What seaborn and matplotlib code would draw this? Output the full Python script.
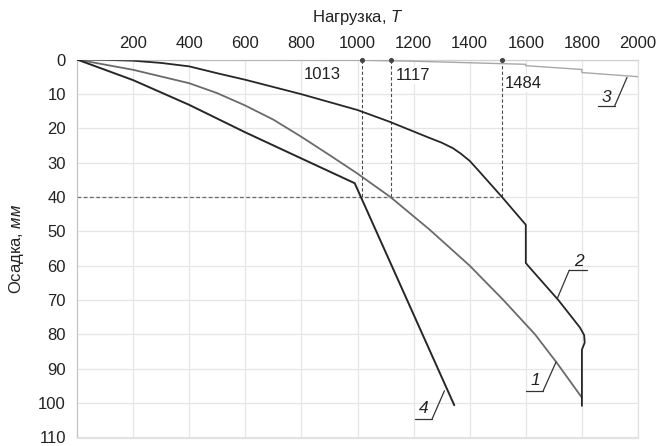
import matplotlib
matplotlib.use("Agg")
import matplotlib.pyplot as plt
from matplotlib import font_manager
import seaborn as sns
import pandas as pd

# ---------------- data ----------------
load_1 = [0, 200, 400, 500, 600, 700, 800, 900, 1000, 1117, 1257, 1400, 1520, 1633, 1710, 1800]
settle_1 = [0, 3.0, 6.9, 9.8, 13.4, 17.5, 22.5, 27.8, 33.2, 40, 49.5, 60, 70, 80, 88.2, 98.4]

load_2 = [0, 100, 200, 300, 400, 500, 600, 700, 800, 1000, 1114, 1250, 1300, 1340, 1370,
          1400, 1430, 1515, 1600, 1600, 1609, 1716, 1793, 1808, 1810, 1803, 1800, 1800]
settle_2 = [0, 0.1, 0.35, 1.0, 2.0, 4.0, 5.9, 8.0, 10.1, 14.7, 18.1, 22.6, 24.2, 25.8, 27.5,
            29.5, 32.2, 40, 48.1, 59.2, 60.1, 70, 78, 80.2, 82.4, 83.8, 84.5, 100.8]

load_3 = [0, 1000, 1200, 1600, 1600, 1800, 1800, 2000]
settle_3 = [0, 0.2, 0.5, 1.4, 1.8, 2.9, 3.8, 5.0]

load_4 = [0, 200, 400, 600, 800, 990, 1345]
settle_4 = [0, 6.0, 13.2, 21.2, 28.8, 36.0, 100.6]

crit_load_pos = [1015, 1118, 1515]
crit_load_text = ["1013", "1117", "1484"]
limit_settlement = 40

x_ticks = [200, 400, 600, 800, 1000, 1200, 1400, 1600, 1800, 2000]
y_ticks = [0, 10, 20, 30, 40, 50, 60, 70, 80, 90, 100, 110]

curve_names = ["1", "2", "3", "4"]

# ---------------- style ----------------
sns.set_style("white")
installed = {f.name for f in font_manager.fontManager.ttflist}
if "Liberation Sans Narrow" in installed:
    fam, fs = "Liberation Sans Narrow", 14
else:
    fam, fs = "Liberation Sans", 12
plt.rcParams['font.family'] = [fam, 'DejaVu Sans']
plt.rcParams['mathtext.fontset'] = 'custom'
plt.rcParams['mathtext.rm'] = fam
plt.rcParams['mathtext.it'] = fam + ':italic'

fig = plt.figure(figsize=(6.62, 4.46), dpi=100)
ax = fig.add_axes([77 / 662, 1 - 437.5 / 446, (638 - 77) / 662, (437.5 - 59.5) / 446])

frames = {
    "1": (load_1, settle_1, "#6a6a6a", 1.3),
    "2": (load_2, settle_2, "#262626", 1.3),
    "3": (load_3, settle_3, "#a8a8a8", 1.0),
    "4": (load_4, settle_4, "#262626", 1.4),
}
for name in curve_names:
    xs, ys, col, lw = frames[name]
    df = pd.DataFrame({"load": xs, "settle": ys})
    sns.lineplot(data=df, x="load", y="settle", sort=False, estimator=None,
                 color=col, lw=lw, ax=ax, zorder=3)

# critical loads: dashed guides
dash = (0, (3, 2))
for xp in crit_load_pos:
    ax.plot([xp, xp], [0, limit_settlement], ls=dash, color="#4a4a4a", lw=0.8, zorder=2)
ax.plot([0, crit_load_pos[-1]], [limit_settlement, limit_settlement], ls=dash,
        color="#6a6a6a", lw=0.9, zorder=2)
ax.scatter(crit_load_pos, [0.2] * len(crit_load_pos), s=7, color="#444444",
           zorder=5, clip_on=False)

box = dict(boxstyle="square,pad=0.05", fc="white", ec="none")
ax.text(942, 4.4, crit_load_text[0], ha="right", va="center", fontsize=fs,
        color="#222222", bbox=box, zorder=4)
ax.text(1138, 4.6, crit_load_text[1], ha="left", va="center", fontsize=fs,
        color="#222222", bbox=box, zorder=4)
ax.text(1526, 7.0, crit_load_text[2], ha="left", va="center", fontsize=fs,
        color="#222222", bbox=box, zorder=4)

# curve number callouts
callouts = {
    "3": ((1888, 11.0), (1858, 1917, 13.5), (1917, 13.5), (1961, 5.2)),
    "2": ((1790, 58.8), (1755, 1817, 61.3), (1755, 61.3), (1712, 69.6)),
    "1": ((1633, 93.3), (1601, 1662, 96.4), (1662, 96.4), (1708, 88.0)),
    "4": ((1236, 101.7), (1206, 1266, 104.6), (1266, 104.6), (1310, 96.4)),
}
for name in curve_names:
    (tx, ty), (u0, u1, uy), (l0x, l0y), (l1x, l1y) = callouts[name]
    ax.text(tx, ty, name, ha="center", va="center", fontsize=fs + 0.5,
            fontstyle="italic", color="#222222")
    ax.plot([u0, u1], [uy, uy], color="#333333", lw=0.9, zorder=4)
    ax.plot([l0x, l1x], [l0y, l1y], color="#333333", lw=0.9, zorder=4)

# axes
ax.set_xlim(0, 2000)
ax.set_ylim(110, 0)
ax.xaxis.tick_top()
ax.xaxis.set_label_position("top")
ax.set_xticks(x_ticks)
ax.set_yticks(y_ticks)
ax.tick_params(axis="both", length=0, labelsize=fs, colors="#222222")
ax.tick_params(axis="x", pad=6)
ax.tick_params(axis="y", pad=8)
ax.set_xlabel(r"Нагрузка, $\mathit{T}$", fontsize=fs, labelpad=10, color="#222222")
ax.set_ylabel(r"Осадка, $\mathit{мм}$", fontsize=fs, labelpad=9, color="#222222")

ax.grid(True, color="#e6e6e6", lw=0.9, zorder=0)
ax.set_axisbelow(True)
for side, sp in ax.spines.items():
    sp.set_color("#e0e0e0")
    sp.set_linewidth(0.9)
ax.spines["left"].set_color("#c4c4c4")
ax.spines["top"].set_color("#d0d0d0")

fig.savefig("out.png", dpi=100)
